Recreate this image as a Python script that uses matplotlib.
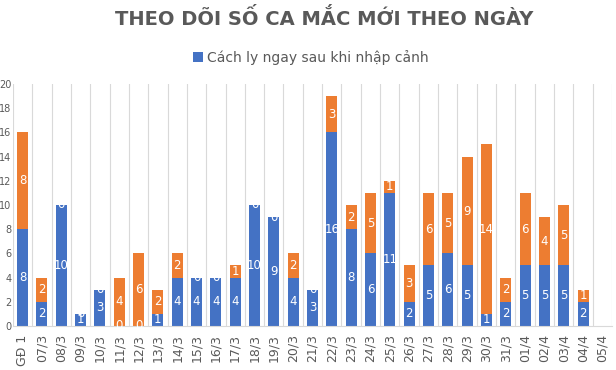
import numpy as np
import matplotlib.pyplot as plt

# Số liệu theo ngày
days = ['GĐ 1', '07/3', '08/3', '09/3', '10/3', '11/3', '12/3', '13/3', '14/3', '15/3',
        '16/3', '17/3', '18/3', '19/3', '20/3', '21/3', '22/3', '23/3', '24/3', '25/3',
        '26/3', '27/3', '28/3', '29/3', '30/3', '31/3', '01/4', '02/4', '03/4', '04/4', '05/4']
cach_ly = [8, 2, 10, 1, 3, 0, 0, 1, 4, 4, 4, 4, 10, 9, 4, 3, 16, 8, 6, 11,
           2, 5, 6, 5, 1, 2, 5, 5, 5, 2, None]
trong_nuoc = [8, 2, 0, 0, 0, 4, 6, 2, 2, 0, 0, 1, 0, 0, 2, 0, 3, 2, 5, 1,
              3, 6, 5, 9, 14, 2, 6, 4, 5, 1, None]

blue = '#4472C4'
orange = '#ED7D31'
grey = '#595959'

fig = plt.figure(figsize=(6.16, 3.70), dpi=100)
ax = fig.add_axes([0.021, 0.119, 0.9725, 0.654])

x = np.arange(len(days))
b = np.array([np.nan if v is None else v for v in cach_ly], dtype=float)
o = np.array([np.nan if v is None else v for v in trong_nuoc], dtype=float)

bars1 = ax.bar(x, b, width=0.57, color=blue, label='Cách ly ngay sau khi nhập cảnh', zorder=2)
bars2 = ax.bar(x, o, width=0.57, bottom=b, color=orange, zorder=2)

lab1 = ['' if v is None else str(v) for v in cach_ly]
lab2 = ['' if v is None else str(v) for v in trong_nuoc]
ax.bar_label(bars1, labels=lab1, label_type='center', color='white', fontsize=8.5)
ax.bar_label(bars2, labels=lab2, label_type='center', color='white', fontsize=8.5)

ax.set_xlim(-0.5, len(days) - 0.5)
ax.set_ylim(0, 20)
ax.set_yticks(np.arange(0, 21, 2))
ax.set_xticks(x)
ax.set_xticklabels(days, rotation=90, fontsize=9, color=grey)
ax.set_xticks(np.arange(-0.5, len(days), 1), minor=True)
ax.grid(axis='x', which='minor', color='#d9d9d9', linewidth=0.8, zorder=0)
ax.tick_params(axis='x', which='both', length=0, pad=6)
ax.tick_params(axis='y', length=0, pad=1, labelsize=7, labelcolor=grey)
for s in ['top', 'right', 'left']:
    ax.spines[s].set_visible(False)
ax.spines['bottom'].set_color('#d9d9d9')

fig.text(0.527, 0.95, 'THEO DÕI SỐ CA MẮC MỚI THEO NGÀY', ha='center', va='center',
         fontsize=14, fontweight='bold', color=grey)
fig.legend(handles=[bars1], loc='center', bbox_to_anchor=(0.505, 0.845), frameon=False,
           fontsize=10, labelcolor=grey, handlelength=0.7, handleheight=0.7, handletextpad=0.3)

fig.savefig('out.png', dpi=100)
